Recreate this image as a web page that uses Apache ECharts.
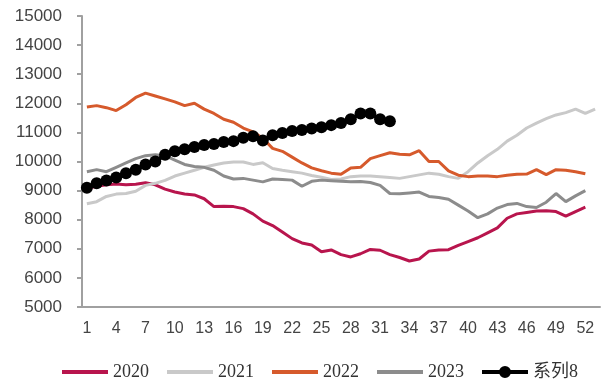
<!DOCTYPE html>
<html>
<head>
<meta charset="utf-8">
<script src="https://cdn.jsdelivr.net/npm/echarts@6/dist/echarts.min.js"></script>
<style>
  html, body { margin: 0; padding: 0; background: #fff; }
  #chart { width: 609px; height: 380px; }
</style>
</head>
<body>
<div id="chart"></div>
<script>
// weeks 1..53
const weeks = Array.from({ length: 53 }, (_, i) => String(i + 1))

const s2020 = [9080, 9150, 9200, 9230, 9200, 9220, 9270, 9200, 9050, 8950,
  8880, 8850, 8720, 8450, 8460, 8450, 8380, 8200, 7950, 7800,
  7580, 7350, 7200, 7130, 6900, 6960, 6800, 6720, 6830, 6980,
  6950, 6800, 6700, 6580, 6650, 6920, 6960, 6970, 7120, 7250,
  7380, 7550, 7720, 8050, 8200, 8250, 8300, 8310, 8280, 8120,
  8280, 8430]

const s2021 = [8550, 8620, 8800, 8880, 8900, 8980, 9180, 9250, 9350, 9500,
  9600, 9700, 9800, 9880, 9950, 9980, 9980, 9900, 9960, 9760,
  9700, 9650, 9600, 9520, 9460, 9380, 9400, 9480, 9500, 9500,
  9480, 9450, 9420, 9480, 9540, 9600, 9560, 9480, 9420, 9650,
  9950, 10200, 10420, 10700, 10900, 11150, 11320, 11470, 11600, 11680,
  11800, 11650, 11800]

const s2022 = [11870, 11920, 11850, 11750, 11950, 12200, 12350, 12250, 12150, 12050,
  11920, 12000, 11800, 11650, 11450, 11350, 11150, 11020, 10800, 10450,
  10350, 10150, 9950, 9780, 9680, 9600, 9560, 9780, 9800, 10100,
  10200, 10300, 10250, 10230, 10370, 10000, 10000, 9680, 9530, 9480,
  9500, 9500, 9480, 9530, 9560, 9570, 9720, 9550, 9720, 9700,
  9650, 9580]

const s2023 = [9650, 9720, 9650, 9800, 9950, 10100, 10200, 10230, 10200, 10050,
  9900, 9830, 9800, 9700, 9500, 9400, 9420, 9360, 9300, 9400,
  9380, 9360, 9150, 9320, 9360, 9340, 9320, 9300, 9310, 9280,
  9180, 8900, 8890, 8920, 8950, 8800, 8760, 8700, 8500, 8300,
  8070, 8200, 8400, 8520, 8560, 8450, 8420, 8600, 8900, 8620,
  8820, 9000]

const s8 = [9100, 9250, 9350, 9450, 9600, 9720, 9900, 10000, 10230, 10350,
  10420, 10500, 10570, 10600, 10670, 10700, 10820, 10870, 10720, 10900,
  10980, 11050, 11080, 11130, 11180, 11250, 11320, 11450, 11650, 11650,
  11450, 11380]

const chart = echarts.init(document.getElementById('chart'))

// legend icons: plain line for the years, thick line + dot for 系列8
const lineIcon = 'path://M0,0 L46,0 L46,4 L0,4 Z'
const dotLineIcon = 'path://M0,4 L46,4 L46,8 L0,8 Z M17,6 A6,6 0 1,1 29,6 A6,6 0 1,1 17,6 Z'

const lineSeries = (name, data, color) => ({
  name, type: 'line', data,
  symbol: 'none', smooth: false,
  lineStyle: { color, width: 3 },
  itemStyle: { color },
})

chart.setOption({
  animation: false,
  grid: { left: 82, right: 9, top: 16, bottom: 73 },
  legend: {
    left: 57, top: 358,
    itemWidth: 46, itemHeight: 12, itemGap: 18,
    textStyle: { fontFamily: '"Liberation Serif", "Noto Sans CJK SC", serif', fontSize: 18, color: '#333' },
    data: [
      { name: '2020', icon: lineIcon },
      { name: '2021', icon: lineIcon },
      { name: '2022', icon: lineIcon },
      { name: '2023', icon: lineIcon },
      { name: '系列8', icon: dotLineIcon },
    ],
  },
  xAxis: {
    type: 'category',
    data: weeks,
    boundaryGap: true,
    axisLine: { lineStyle: { color: '#a0a0a0', width: 2 } },
    axisTick: { interval: 2, length: 5, lineStyle: { color: '#a0a0a0', width: 2 } },
    axisLabel: { interval: 2, margin: 14, fontSize: 16, color: '#444', fontFamily: '"Liberation Sans", Arial, sans-serif' },
  },
  yAxis: {
    type: 'value',
    min: 5000, max: 15000, interval: 1000,
    axisLine: { show: true, lineStyle: { color: '#a0a0a0', width: 2 } },
    axisTick: { show: true, length: 5, lineStyle: { color: '#a0a0a0', width: 2 } },
    splitLine: { show: false },
    axisLabel: {
      margin: 20, fontSize: 17, color: '#444',
      fontFamily: '"Liberation Sans", Arial, sans-serif',
      formatter: v => String(v),
    },
  },
  series: [
    lineSeries('2020', s2020, '#b8154d'),
    lineSeries('2021', s2021, '#c9c9c9'),
    lineSeries('2022', s2022, '#d65a2c'),
    lineSeries('2023', s2023, '#8c8c8c'),
    {
      name: '系列8', type: 'line', data: s8,
      symbol: 'circle', symbolSize: 12, showAllSymbol: true,
      lineStyle: { color: '#000', width: 4 },
      itemStyle: { color: '#000' },
      z: 5,
    },
  ],
})
</script>
</body>
</html>
